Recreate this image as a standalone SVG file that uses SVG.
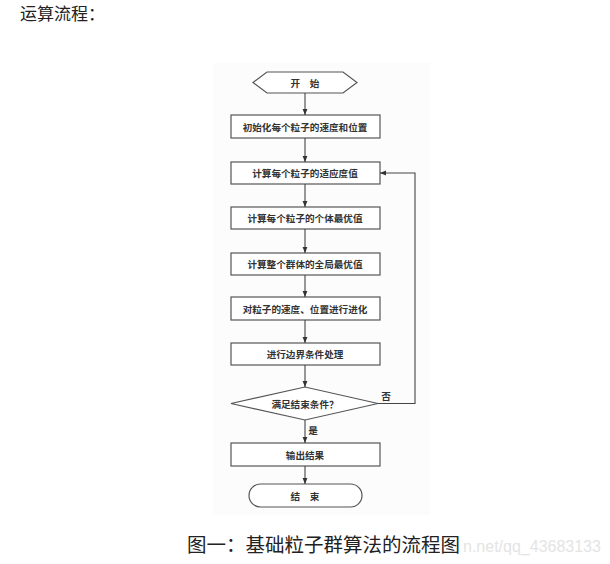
<svg xmlns="http://www.w3.org/2000/svg" width="610" height="564" viewBox="0 0 610 564">
<style>
.n{fill:#fff;stroke:#555;stroke-width:1.2}
.t{font-family:"Noto Sans CJK SC","Noto Sans",sans-serif;font-size:9.6px;font-weight:bold;fill:#333;text-anchor:middle;dominant-baseline:central}
.c{fill:none;stroke:#444;stroke-width:1.1}
</style>
<defs>
<marker id="a" viewBox="0 0 10 10" refX="10" refY="5" markerWidth="6" markerHeight="6" orient="auto" markerUnits="userSpaceOnUse"><path d="M0,1 L10,5 L0,9 Z" fill="#333"/></marker>
</defs>
<rect width="610" height="564" fill="#fff"/>
<rect x="213" y="63" width="217" height="452" fill="#fcfcfc"/>
<text x="20" y="20" font-family="Noto Sans CJK SC,sans-serif" font-size="17" fill="#222">运算流程：</text>
<g id="start"><polygon class="n" points="253,82.5 267,72 343,72 357,82.5 343,93 267,93"/><text class="t" x="305" y="82.5">开　始</text></g>
<g id="init"><rect class="n" x="231" y="115" width="149" height="23"/><text class="t" x="305" y="126.5">初始化每个粒子的速度和位置</text></g>
<g id="fitness"><rect class="n" x="231" y="162" width="149" height="22"/><text class="t" x="305" y="173">计算每个粒子的适应度值</text></g>
<g id="pbest"><rect class="n" x="231" y="207" width="149" height="22"/><text class="t" x="305" y="218">计算每个粒子的个体最优值</text></g>
<g id="gbest"><rect class="n" x="231" y="253" width="149" height="22"/><text class="t" x="305" y="264">计算整个群体的全局最优值</text></g>
<g id="evolve"><rect class="n" x="231" y="297" width="149" height="23"/><text class="t" x="305" y="308.5">对粒子的速度、位置进行进化</text></g>
<g id="boundary"><rect class="n" x="231" y="343" width="149" height="22"/><text class="t" x="305" y="354">进行边界条件处理</text></g>
<g id="cond"><polygon class="n" points="231,403.5 305,387 378,403.5 305,420"/><text class="t" x="305" y="403.5">满足结束条件？</text></g>
<g id="output"><rect class="n" x="231" y="443" width="149" height="23"/><text class="t" x="305" y="454.5">输出结果</text></g>
<g id="end"><rect class="n" x="249" y="484" width="113" height="23" rx="11.5"/><text class="t" x="305" y="495.5">结　束</text></g>
<g id="connectors">
<line class="c" x1="305" y1="93" x2="305" y2="115" marker-end="url(#a)"/>
<line class="c" x1="305" y1="138" x2="305" y2="162" marker-end="url(#a)"/>
<line class="c" x1="305" y1="184" x2="305" y2="207" marker-end="url(#a)"/>
<line class="c" x1="305" y1="229" x2="305" y2="253" marker-end="url(#a)"/>
<line class="c" x1="305" y1="275" x2="305" y2="297" marker-end="url(#a)"/>
<line class="c" x1="305" y1="320" x2="305" y2="343" marker-end="url(#a)"/>
<line class="c" x1="305" y1="365" x2="305" y2="387" marker-end="url(#a)"/>
<line class="c" x1="305" y1="420" x2="305" y2="443" marker-end="url(#a)"/>
<line class="c" x1="305" y1="466" x2="305" y2="484" marker-end="url(#a)"/>
<polyline class="c" points="378,403.5 415,403.5 415,173 380,173" marker-end="url(#a)"/>
<text class="t" x="386" y="396" font-weight="normal">否</text>
<text class="t" x="313" y="430">是</text>
</g>
<text x="463" y="552" font-family="Liberation Sans,sans-serif" font-size="16" fill="#e4e4e4">n.net/qq_43683133</text>
<text x="187" y="552" font-family="Noto Sans CJK SC,sans-serif" font-size="19.5" fill="#222">图一：基础粒子群算法的流程图</text>
</svg>
